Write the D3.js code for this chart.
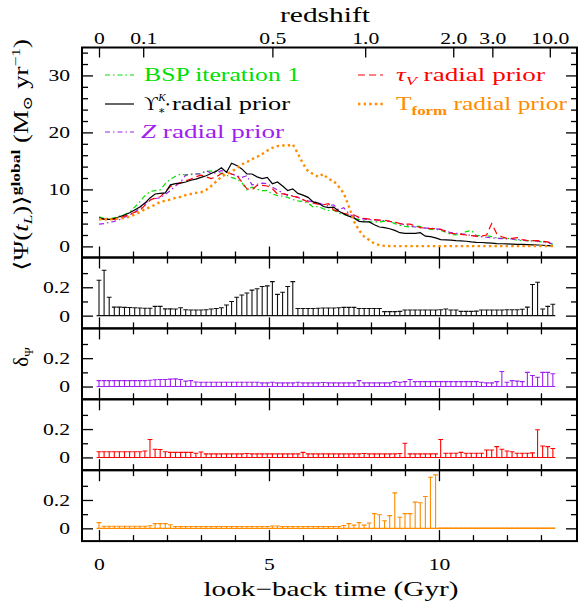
<!DOCTYPE html>
<html><head><meta charset="utf-8">
<script src="https://cdn.jsdelivr.net/npm/d3@7"></script>
<style>body{margin:0;background:#fff} svg{display:block} text{font-family:"Liberation Serif","DejaVu Serif",serif}</style>
</head><body><svg id="c" width="580" height="603"></svg>
<script>
// look-back time bins (Gyr)
const times = [0,0.15,0.3,0.45,0.6,0.75,0.9,1.05,1.2,1.35,
1.5,1.65,1.8,1.95,2.1,2.25,2.4,2.55,2.7,2.85,
3,3.15,3.3,3.45,3.6,3.75,3.9,4.05,4.2,4.35,
4.5,4.65,4.8,4.95,5.1,5.25,5.4,5.55,5.7,5.85,
6,6.15,6.3,6.45,6.6,6.75,6.9,7.05,7.2,7.35,
7.5,7.65,7.8,7.95,8.1,8.25,8.4,8.55,8.7,8.85,
9,9.15,9.3,9.45,9.6,9.75,9.9,10.05,10.2,10.35,
10.5,10.65,10.8,10.95,11.1,11.25,11.4,11.55,11.7,11.85,
12,12.15,12.3,12.45,12.6,12.75,12.9,13.05,13.2,13.35];

// global SFR  <Psi(t_L)>  (Msun/yr)
const sfrBSP = [5.2,4.9,4.9,5.0,5.3,5.6,6.0,6.9,7.8,8.9,
9.6,9.8,9.9,11.0,11.8,12.3,12.7,12.5,12.6,12.7,
12.8,13.2,13.2,13.2,12.8,12.5,12.1,11.8,11.2,9.9,
10.4,10.0,9.8,9.8,9.2,8.9,8.8,8.6,8.2,8.0,
7.9,7.6,6.9,7.0,6.6,6.3,6.4,5.8,5.6,5.3,
4.9,4.7,4.5,4.3,4.3,4.3,4.4,4.4,4.0,3.7,
3.5,3.4,3.5,3.5,3.2,3.0,3.0,2.8,2.5,2.1,
2.0,2.2,2.6,2.8,1.9,1.9,1.9,1.7,1.5,1.4,
1.4,1.3,1.1,1.0,1.0,0.97,0.9,0.75,0.6,0.4];
const sfrUps = [5.0,4.8,4.75,4.9,5.2,5.5,5.9,6.4,6.9,7.6,
8.5,9.2,9.3,9.4,10.8,11.0,11.1,11.3,11.6,11.8,
12.1,12.4,12.8,13.2,13.8,13.0,14.6,14.2,13.6,12.7,
12.7,12.2,11.9,12.1,11.0,11.3,10.6,9.8,10.1,9.3,
9.0,8.6,7.8,7.6,7.0,6.8,6.9,6.2,5.7,5.3,
5.0,4.4,4.3,4.3,3.8,3.4,3.3,3.1,2.8,2.4,
2.3,2.3,2.3,2.4,1.8,1.7,1.5,1.2,1.15,1.1,
1.0,0.97,0.9,0.8,0.72,0.68,0.62,0.57,0.5,0.46,
0.43,0.4,0.37,0.34,0.3,0.27,0.24,0.2,0.15,0.1];
const sfrZ = [3.9,4.0,4.2,4.4,4.7,5.1,5.5,6.0,6.7,7.5,
8.2,8.4,8.5,9.1,9.8,10.6,11.3,12.5,12.7,12.7,
12.7,13.3,12.8,12.9,13.3,13.1,12.7,12.4,12.1,12.4,
10.8,10.9,11.1,11.0,10.4,9.9,9.4,8.9,8.9,8.6,
8.2,8.0,7.8,7.7,7.3,7.1,7.3,6.4,6.8,5.7,
5.2,5.0,4.8,4.7,4.6,4.6,4.5,4.4,4.2,4.0,
3.8,3.6,3.4,3.3,3.2,3.2,3.1,3.0,2.7,2.4,
2.3,2.2,2.1,1.9,1.8,1.7,1.6,1.5,1.4,1.35,
1.3,1.3,1.2,1.1,1.0,0.95,0.9,0.8,0.7,0.4];
const sfrTau = [4.9,4.8,4.75,4.75,5.0,5.3,5.6,6.0,6.3,7.2,
8.1,8.5,8.7,9.6,10.5,10.9,11.2,11.5,11.8,12.2,
12.5,12.2,11.9,12.2,12.8,13.0,12.7,12.5,11.3,10.1,
9.9,10.7,10.7,10.6,10.1,9.2,9.2,9.1,8.8,8.6,
8.2,7.8,7.6,7.4,7.3,7.5,6.4,6.1,5.8,5.6,
5.5,5.1,4.9,4.8,4.7,4.6,4.6,4.4,4.3,4.0,
3.9,3.9,3.6,3.3,3.2,3.1,3.1,3.0,2.6,2.3,
2.2,2.1,2.0,1.9,1.8,1.8,2.0,4.0,2.2,1.7,
1.4,1.4,1.55,1.2,1.0,1.0,1.0,0.9,0.8,0.4];
const sfrTform = [4.75,4.75,4.75,4.8,4.9,5.0,5.2,5.6,6.0,6.5,
6.9,7.3,7.8,8.0,8.2,8.5,8.7,9.0,9.2,9.4,
9.5,9.9,10.6,11.4,12.2,12.7,13.1,13.7,14.4,14.8,
15.3,15.7,16.2,16.8,17.3,17.6,17.7,17.7,17.9,16.3,
14.5,13.2,12.7,12.2,12.7,11.8,11.5,10.5,9.3,7.0,
4.4,2.8,1.7,1.1,0.5,0.2,0.1,0.05,0.05,0.05,
0.05,0.05,0.05,0.05,0.05,0.05,0.05,0.05,0.05,0.05,
0.05,0.05,0.05,0.05,0.05,0.05,0.05,0.05,0.05,0.05,
0.05,0.05,0.05,0.05,0.05,0.05,0.05,0.05,0.05,0.05];

// relative deviations delta_Psi
const devUps = [0.25,0.32,0.13,0.06,0.06,0.058,0.057,0.056,0.054,0.052,
0.052,0.065,0.065,0.048,0.048,0.047,0.056,0.042,0.04,0.04,
0.04,0.042,0.047,0.05,0.056,0.075,0.10,0.13,0.146,0.16,
0.18,0.19,0.205,0.21,0.24,0.15,0.165,0.205,0.24,0.05,
0.05,0.05,0.05,0.052,0.054,0.054,0.054,0.056,0.058,0.058,
0.058,0.05,0.05,0.05,0.05,0.05,0.028,0.028,0.028,0.03,
0.04,0.04,0.04,0.04,0.04,0.04,0.04,0.042,0.047,0.04,
0.04,0.03,0.03,0.03,0.032,0.04,0.04,0.04,0.04,0.04,
0.042,0.042,0.042,0.045,0.06,0.22,0.235,0.047,0.065,0.08];
const devZ = [0.042,0.042,0.042,0.042,0.042,0.042,0.042,0.042,0.042,0.042,
0.044,0.048,0.05,0.05,0.052,0.054,0.05,0.038,0.042,0.032,
0.03,0.03,0.03,0.03,0.03,0.03,0.03,0.03,0.03,0.03,
0.03,0.03,0.026,0.026,0.03,0.026,0.026,0.026,0.026,0.03,
0.026,0.026,0.026,0.026,0.028,0.026,0.026,0.026,0.026,0.026,
0.026,0.042,0.026,0.026,0.026,0.026,0.026,0.026,0.035,0.03,
0.035,0.05,0.035,0.035,0.035,0.035,0.035,0.035,0.035,0.035,
0.035,0.035,0.035,0.035,0.035,0.03,0.026,0.026,0.035,0.106,
0.03,0.042,0.038,0.035,0.10,0.078,0.066,0.10,0.10,0.09];
const devTau = [0.04,0.04,0.04,0.04,0.04,0.04,0.04,0.04,0.04,0.045,
0.126,0.058,0.056,0.04,0.036,0.036,0.036,0.036,0.036,0.03,
0.038,0.025,0.025,0.025,0.025,0.025,0.025,0.025,0.025,0.028,
0.025,0.025,0.025,0.025,0.025,0.025,0.025,0.025,0.025,0.025,
0.036,0.025,0.025,0.025,0.025,0.025,0.025,0.025,0.025,0.025,
0.025,0.025,0.028,0.025,0.025,0.025,0.025,0.025,0.025,0.028,
0.1,0.025,0.025,0.025,0.025,0.025,0.025,0.126,0.03,0.03,
0.03,0.036,0.03,0.03,0.03,0.03,0.052,0.052,0.076,0.058,
0.045,0.04,0.03,0.03,0.03,0.032,0.195,0.081,0.076,0.063];
const devTform = [0.04,0.015,0.015,0.015,0.015,0.015,0.015,0.015,0.015,0.015,
0.018,0.033,0.033,0.033,0.025,0.013,0.013,0.013,0.013,0.013,
0.013,0.013,0.013,0.013,0.013,0.013,0.013,0.013,0.013,0.013,
0.013,0.013,0.013,0.013,0.016,0.016,0.013,0.013,0.013,0.013,
0.013,0.013,0.013,0.013,0.013,0.013,0.013,0.013,0.02,0.033,
0.023,0.04,0.023,0.038,0.104,0.096,0.053,0.09,0.25,0.078,
0.104,0.104,0.185,0.18,0.225,0.36,0.377,0.002,0.002,0.002,
0.002,0.002,0.002,0.002,0.002,0.002,0.002,0.002,0.002,0.002,
0.002,0.002,0.002,0.002,0.002,0.002,0.002,0.002,0.002,0.002];

// axis ticks
const zLabels = ["0","0.1","0.5","1.0","2.0","3.0","10.0"];
const zLookback = [0,1.3,5.1,7.83,10.42,11.57,13.26];
const tMajor = [0,5,10];
const tMinor = [1,2,3,4,6,7,8,9,11,12,13];
const yTopMajor = [0,10,20,30];
const yTopMinor = [2,4,6,8,12,14,16,18,22,24,26,28,32,34];
const yDevMajor = [0,0.2];
const yDevMinor = [0.1,0.3];

const C = {green:"#00e000", black:"#000000", purple:"#a020f0", red:"#ff0000", orange:"#ff8c00"};
const FONT = "Liberation Serif";

const svg = d3.select("#c");
const L=82, R=577, T0=47.5, T1=257.5, PH=70.9;
const x = d3.scaleLinear().domain([-0.5,14.06]).range([L,R]);
const yTop = d3.scaleLinear().domain([-1.95,34.9]).range([T1,T0]);

function styleAxis(g){ g.select(".domain").remove(); g.selectAll(".tick line").attr("stroke","#000").attr("stroke-width",1.3);
  g.selectAll("text").attr("font-family",FONT).attr("font-size",17).attr("fill","#000")
    .each(function(){ const s=this.textContent; if(!s) return;
      const len=[...s].reduce((a,c)=>a+(c==="."?5.5:10.8),0);
      d3.select(this).attr("textLength",len).attr("lengthAdjust","spacingAndGlyphs"); }); }

function xTicks(yPos, which, labels){
  const mk = which==="bottom" ? d3.axisBottom : d3.axisTop;
  const gM = svg.append("g").attr("transform",`translate(0,${yPos})`)
    .call(mk(x).tickValues(tMajor).tickSize(-11).tickPadding(17).tickFormat(labels? d3.format("d") : ""));
  styleAxis(gM);
  const gm = svg.append("g").attr("transform",`translate(0,${yPos})`)
    .call(mk(x).tickValues(tMinor).tickSize(-6).tickFormat(""));
  styleAxis(gm);
}
function yTicks(y, major, minor, fmt, majLen, minLen){
  const a = svg.append("g").attr("transform",`translate(${L},0)`)
    .call(d3.axisLeft(y).tickValues(major).tickSize(-majLen).tickPadding(12).tickFormat(fmt));
  styleAxis(a);
  const b = svg.append("g").attr("transform",`translate(${L},0)`)
    .call(d3.axisLeft(y).tickValues(minor).tickSize(-minLen).tickFormat(""));
  styleAxis(b);
  const c = svg.append("g").attr("transform",`translate(${R},0)`)
    .call(d3.axisRight(y).tickValues(major).tickSize(-majLen).tickFormat(""));
  styleAxis(c);
  const d = svg.append("g").attr("transform",`translate(${R},0)`)
    .call(d3.axisRight(y).tickValues(minor).tickSize(-minLen).tickFormat(""));
  styleAxis(d);
}

// ---------- top panel ----------
yTicks(yTop, yTopMajor, yTopMinor, d3.format("d"), 11, 6);
xTicks(T1, "bottom", false);
const gz = svg.append("g").attr("transform",`translate(0,${T0})`)
  .call(d3.axisTop(x).tickValues(zLookback).tickSize(-10).tickPadding(4).tickFormat((d,i)=>zLabels[i]));
styleAxis(gz);

const series = [
  {v:sfrBSP, c:C.green, dash:"5,3,1.5,3", w:1.2},
  {v:sfrZ, c:C.purple, dash:"5,3,1.5,3", w:1.2},
  {v:sfrTau, c:C.red, dash:"7,4", w:1.2},
  {v:sfrUps, c:C.black, dash:null, w:1.2},
  {v:sfrTform, c:C.orange, dash:"2.4,3.2", w:2.4},
];
series.forEach(s=>{
  const line = d3.line().x((d,i)=>x(times[i])).y(d=>yTop(d));
  svg.append("path").datum(s.v).attr("d",line).attr("fill","none")
    .attr("stroke",s.c).attr("stroke-width",s.w).attr("stroke-dasharray",s.dash);
});

// ---------- deviation panels ----------
const devs = [{v:devUps,c:"#111"},{v:devZ,c:C.purple},{v:devTau,c:C.red},{v:devTform,c:C.orange}];
devs.forEach((p,k)=>{
  const top = T1 + k*PH, bot = top + PH;
  const y = d3.scaleLinear().domain([-0.09,0.41]).range([bot,top]);
  yTicks(y, yDevMajor, yDevMinor, d=> d===0?"0":d3.format(".1f")(d), 11, 6);
  xTicks(top, "top", false);
  xTicks(bot, "bottom", k===3);
  const g = svg.append("g").attr("stroke",p.c).attr("stroke-width",1.1).attr("fill","none");
  g.append("line").attr("x1",x(times[0])-2.4).attr("x2",x(times[times.length-1])+2.4)
    .attr("y1",y(0)).attr("y2",y(0));
  g.selectAll("path.bar").data(p.v).join("path").attr("class","bar")
    .attr("d",(d,i)=>{const xx=x(times[i]), y0=y(0), y1=y(d);
      return `M${xx},${y0}V${y1}M${xx-2.4},${y1}H${xx+2.4}`;});
});

// frames
const frame = svg.append("g").attr("fill","none").attr("stroke","#000").attr("stroke-width",2);
frame.append("rect").attr("x",L).attr("y",T0).attr("width",R-L).attr("height",T1-T0);
for(let k=0;k<4;k++) frame.append("rect").attr("x",L).attr("y",T1+k*PH).attr("width",R-L).attr("height",PH);

// axis titles
svg.append("text").attr("x",325).attr("y",22).attr("text-anchor","middle").attr("font-size",21)
  .attr("textLength",90).attr("lengthAdjust","spacingAndGlyphs").text("redshift");
svg.append("text").attr("x",331).attr("y",596).attr("text-anchor","middle").attr("font-size",21)
  .attr("textLength",255).attr("lengthAdjust","spacingAndGlyphs").text("look\u2212back time (Gyr)");

const yl = svg.append("text").attr("transform","translate(28,155) rotate(-90)").attr("text-anchor","middle")
  .attr("font-size",20).attr("textLength",232).attr("lengthAdjust","spacingAndGlyphs");
yl.append("tspan").text("\u27e8\u03a8(");
yl.append("tspan").attr("font-style","italic").text("t");
yl.append("tspan").attr("font-size",13).attr("font-style","italic").attr("dy",4).text("L");
yl.append("tspan").attr("dy",-4).text(")\u27e9");
yl.append("tspan").attr("font-size",13).attr("font-weight","bold").attr("dy",-8).text("global");
yl.append("tspan").attr("dy",8).text(" (M");
yl.append("tspan").attr("font-size",13).attr("dy",4).text("\u2299");
yl.append("tspan").attr("dy",-4).text(" yr");
yl.append("tspan").attr("font-size",13).attr("dy",-8).text("\u22121");
yl.append("tspan").attr("dy",8).text(")");

const dl = svg.append("text").attr("transform","translate(28,357) rotate(-90)").attr("text-anchor","middle").attr("font-size",21);
dl.append("tspan").text("\u03b4");
dl.append("tspan").attr("font-size",13).attr("dy",5).text("\u03a8");

// legend
function legLine(x1,x2,y,c,dash,w){
  svg.append("line").attr("x1",x1).attr("x2",x2).attr("y1",y).attr("y2",y)
    .attr("stroke",c).attr("stroke-width",w).attr("stroke-dasharray",dash);
}
legLine(105,134,75,C.green,"5,3,1.5,3",1.2);
legLine(105,134,104,C.black,null,1.2);
legLine(105,134,132,C.purple,"5,3,1.5,3",1.2);
legLine(358,383,75,C.red,"7,4",1.2);
legLine(358,383,104,C.orange,"2.4,3.2",2.4);

svg.append("text").attr("x",144).attr("y",81).attr("font-size",18).attr("fill",C.green)
  .attr("textLength",156).attr("lengthAdjust","spacingAndGlyphs").text("BSP iteration 1");
// Upsilon_*^K with stacked sub/superscript
const ups = svg.append("text").attr("x",144).attr("y",110).attr("font-size",19);
ups.append("tspan").text("\u03d2");
ups.append("tspan").attr("font-size",11).attr("font-style","italic").attr("dx",0.5).attr("dy",-9).text("K");
ups.append("tspan").attr("font-size",11).attr("dx",-7.5).attr("dy",13).text("\u2217");
ups.append("tspan").attr("font-size",10).attr("dx",0.5).attr("dy",-6).text("\u2022");
svg.append("text").attr("x",172).attr("y",110).attr("font-size",18)
  .attr("textLength",118).attr("lengthAdjust","spacingAndGlyphs").text("radial prior");
const zt = svg.append("text").attr("x",141).attr("y",138).attr("font-size",18).attr("fill",C.purple)
  .attr("textLength",143).attr("lengthAdjust","spacingAndGlyphs");
zt.append("tspan").attr("font-style","italic").text("Z");
zt.append("tspan").text(" radial prior");
const tt = svg.append("text").attr("x",396).attr("y",81).attr("font-size",18).attr("fill",C.red)
  .attr("textLength",149).attr("lengthAdjust","spacingAndGlyphs");
tt.append("tspan").attr("font-style","italic").text("\u03c4");
tt.append("tspan").attr("font-style","italic").attr("font-size",12).attr("dy",4).text("V");
tt.append("tspan").attr("dy",-4).text(" radial prior");
const ft = svg.append("text").attr("x",396).attr("y",110).attr("font-size",18).attr("fill",C.orange)
  .attr("textLength",171).attr("lengthAdjust","spacingAndGlyphs");
ft.append("tspan").text("T");
ft.append("tspan").attr("font-size",12).attr("font-weight","bold").attr("dy",5).text("form");
ft.append("tspan").attr("dy",-5).text(" radial prior");
</script></body></html>
